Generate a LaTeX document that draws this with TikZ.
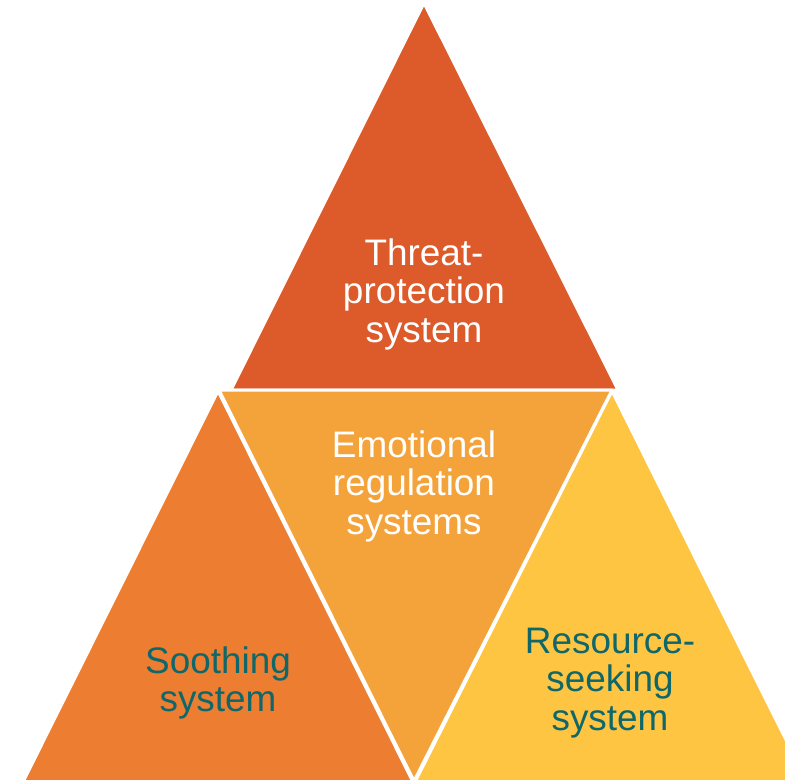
\documentclass[tikz,border=0pt]{standalone}
\usepackage{fontspec}
\setmainfont{Liberation Sans}
\usepackage{xcolor}
\usepackage{tikz}
\usetikzlibrary{positioning}

\definecolor{threatred}{HTML}{DD5A2B}
\definecolor{emoorange}{HTML}{F4A33B}
\definecolor{soothorange}{HTML}{EC7D31}
\definecolor{resyellow}{HTML}{FEC543}
\definecolor{tealtext}{HTML}{10676A}

\begin{document}
\begin{tikzpicture}[x=0.02cm, y=-0.02cm,
    tri/.style={draw=white, line width=1.7pt, line join=round},
    boxtext/.style={align=center, font=\fontsize{21}{21.9}\selectfont}]
    \useasboundingbox (0,0) rectangle (785,779);

    \begin{scope}
        \clip (0,0) rectangle (785,779);
        % Outer triangles
        \filldraw [tri, fill=threatred] (424,3) -- (618,390) -- (231,390) -- cycle;
        \filldraw [tri, fill=soothorange] (218,391) -- (415,786) -- (21,786) -- cycle;
        \filldraw [tri, fill=resyellow] (612,391) -- (809,786) -- (413,786) -- cycle;
        % Inner triangle
        \filldraw [tri, fill=emoorange] (219,390) -- (612,390) -- (414,781) -- cycle;
    \end{scope}

    % Labels
    \node [boxtext, text=white] (threat) at (424,294) {Threat-\\protection\\system};
    \node [boxtext, text=white] (emotion) at (414,486) {Emotional\\regulation\\systems};
    \node [boxtext, text=tealtext] (soothing) at (218,683) {Soothing\\system};
    \node [boxtext, text=tealtext] (resource) at (610,683) {Resource-\\seeking\\system};
\end{tikzpicture}
\end{document}
